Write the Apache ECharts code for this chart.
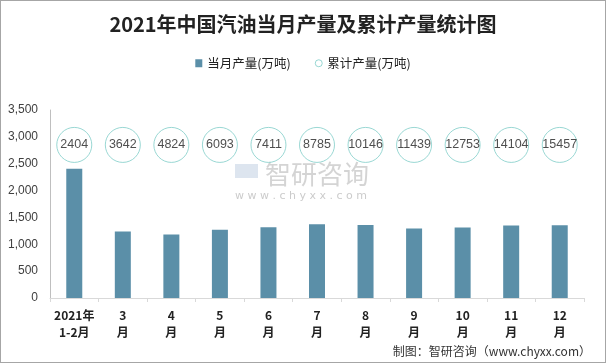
<!DOCTYPE html>
<html><head><meta charset="utf-8">
<script src="https://cdn.jsdelivr.net/npm/echarts@6/dist/echarts.min.js"></script>
<style>html,body{margin:0;padding:0;background:#fff}#c{width:606px;height:363px;box-sizing:border-box;border:1px solid #a6a6a6}</style>
</head><body><div id="c"></div>
<script>
const categories = ['2021年\n1-2月','3\n月','4\n月','5\n月','6\n月','7\n月','8\n月','9\n月','10\n月','11\n月','12\n月'];
const monthly = [2404,1238,1182,1269,1318,1374,1361,1293,1314,1351,1353];
const cumulative = [2404,3642,4824,6093,7411,8785,10146,11439,12753,14104,15457];
const yTicks = [0,500,1000,1500,2000,2500,3000,3500];
const circleLevel = 2850;

const chart = echarts.init(document.getElementById('c'));
chart.setOption({
  animation:false,
  title:{text:'2021年中国汽油当月产量及累计产量统计图',left:'center',top:8,
    textStyle:{fontFamily:'Noto Sans CJK SC',fontSize:20,fontWeight:'bold',color:'#222'}},
  legend:{top:51,left:'center',itemGap:24,itemWidth:7,itemHeight:8,
    textStyle:{fontFamily:'Noto Sans CJK SC',fontSize:12.5,color:'#222'},
    data:[{name:'当月产量(万吨)',icon:'rect'},{name:'累计产量(万吨)',icon:'circle',itemStyle:{color:'#fff',borderColor:'#7fcdc8',borderWidth:1}}]},
  grid:{left:49,right:21,top:109,bottom:64},
  xAxis:{type:'category',data:categories,
    axisLine:{lineStyle:{color:'#d9d9d9'}},
    axisTick:{show:true,alignWithLabel:false,length:4,lineStyle:{color:'#d9d9d9'}},
    axisLabel:{interval:0,fontFamily:'Noto Sans CJK SC',fontSize:12,fontWeight:'bold',color:'#222',lineHeight:17,margin:9}},
  yAxis:{type:'value',min:0,max:3500,interval:500,
    axisLine:{show:true,lineStyle:{color:'#bfbfbf'}},
    axisTick:{show:false},splitLine:{show:false},
    axisLabel:{fontFamily:'Liberation Sans',fontSize:12,color:'#404040',margin:12,
      formatter:v=>yTicks.includes(v)?v.toLocaleString('en-US'):''}},
  graphic:[
    {type:'rect',left:234,top:163,shape:{width:23,height:14},style:{fill:'rgba(170,190,215,0.4)'},z:0},
    {type:'text',left:264,top:160,style:{text:'智研咨询',font:'26px "Noto Sans CJK SC"',fill:'rgba(160,160,160,0.45)'},z:0},
    {type:'text',left:234,top:190,style:{text:'w w w . c h y x x . c o m',font:'11px "DejaVu Sans"',fill:'rgba(160,160,160,0.55)'},z:0},
    {type:'text',right:14,top:344,style:{text:'制图：智研咨询（www.chyxx.com）',font:'12px "Noto Sans CJK SC"',fill:'#333'}}
  ],
  series:[
    {name:'当月产量(万吨)',type:'bar',data:monthly,barWidth:16,itemStyle:{color:'#5b8fa8'},z:2},
    {name:'累计产量(万吨)',type:'scatter',symbol:'circle',symbolSize:35,
      data:cumulative.map((v,i)=>[i,circleLevel,v]),
      itemStyle:{color:'#fff',borderColor:'#7fcdc8',borderWidth:1},
      label:{show:true,position:'inside',formatter:p=>String(p.value[2]),
        fontFamily:'Liberation Sans',fontSize:12.5,color:'#222'},z:3}
  ]
});
</script></body></html>
